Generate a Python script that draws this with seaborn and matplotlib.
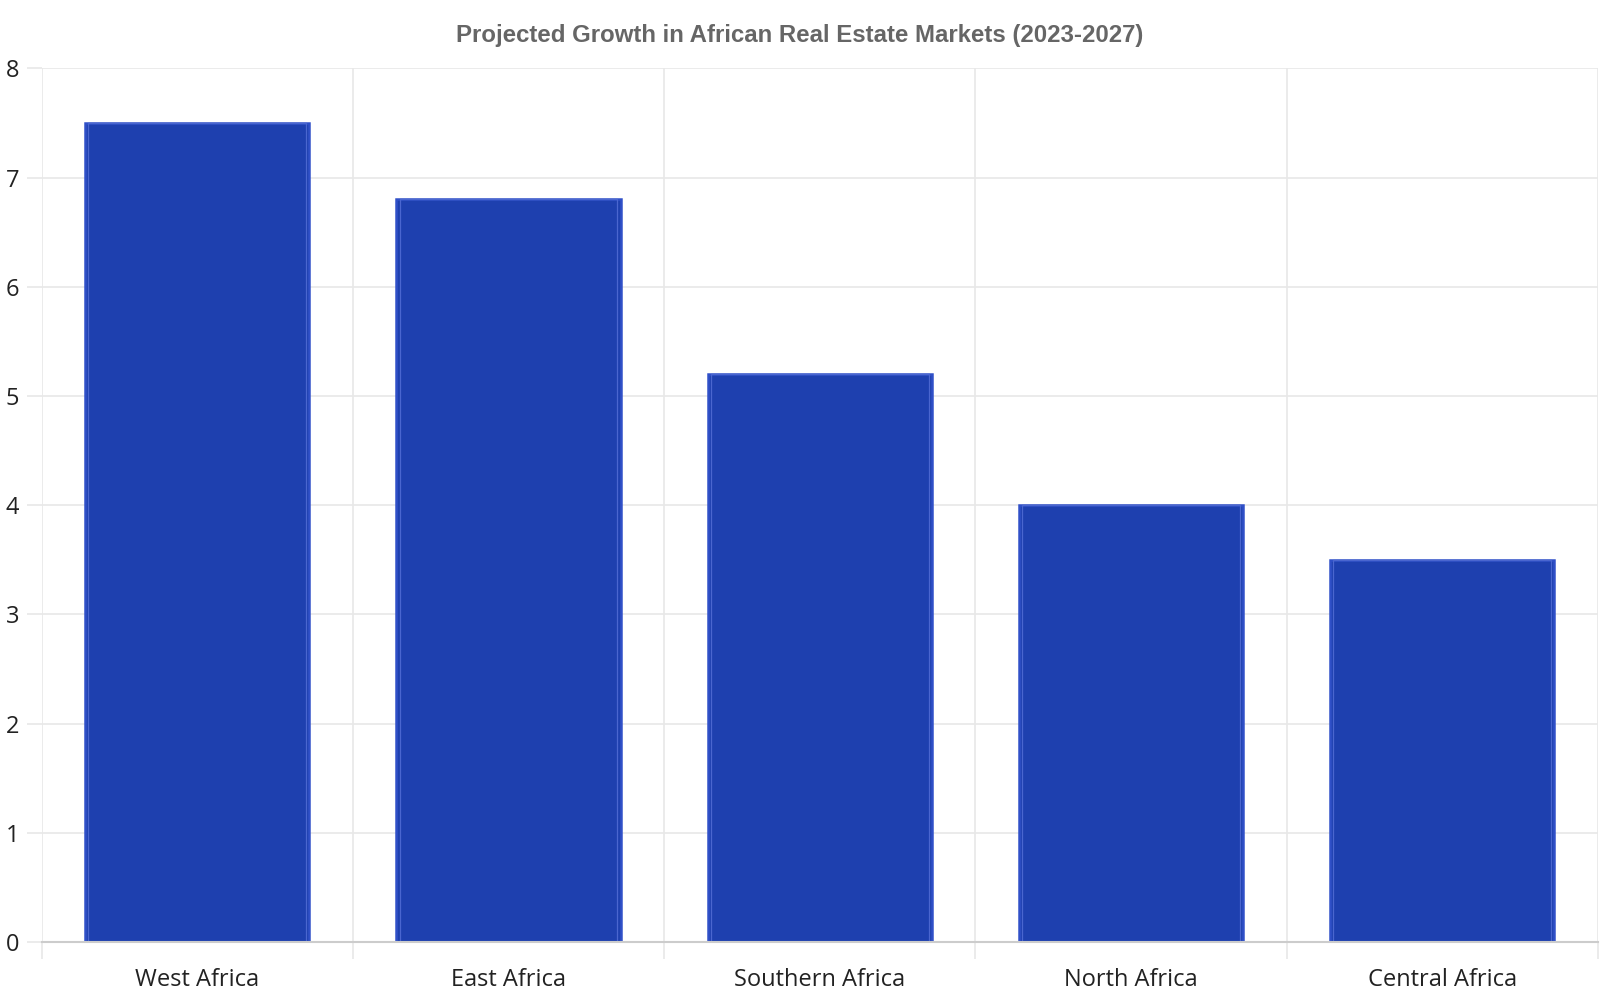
import matplotlib
matplotlib.use("Agg")
import matplotlib.pyplot as plt
import seaborn as sns
import pandas as pd
from matplotlib.ticker import FixedLocator

regions = ["West Africa", "East Africa", "Southern Africa", "North Africa", "Central Africa"]
growth = [7.5, 6.8, 5.2, 4.0, 3.5]

df = pd.DataFrame({"region": regions, "growth": growth})

sns.set_theme(style="white")
plt.rcParams['font.family'] = ['Open Sans', 'DejaVu Sans']

fig = plt.figure(figsize=(16, 10), dpi=100)
ax = fig.add_axes([0.026, 0.058, 0.9727, 0.8737])

sns.barplot(data=df, x="region", y="growth", color="#1e40af", width=0.72,
            edgecolor="#3050c8", linewidth=1.8, saturation=1, ax=ax, zorder=3)
# faint inner outline like the original
sns.barplot(data=df, x="region", y="growth", fill=False, width=0.70,
            edgecolor="#4a66cf", linewidth=0.9, ax=ax, zorder=4)

ax.set_xlim(-0.5, len(regions) - 0.5)
ax.set_ylim(0, 8)
ax.set_yticks(range(0, 9))
ax.xaxis.set_minor_locator(FixedLocator([i - 0.5 for i in range(len(regions) + 1)]))

grid_c = "#e8e8e8"
ax.grid(True, which="minor", axis="x", color=grid_c, linewidth=1.2, zorder=0)
ax.grid(True, which="major", axis="y", color=grid_c, linewidth=1.2, zorder=0)
ax.tick_params(axis="x", which="both", bottom=True)
ax.tick_params(axis="y", which="both", left=True)
ax.tick_params(axis="x", which="major", length=0, pad=19, labelsize=17, labelcolor="#222")
ax.tick_params(axis="x", which="minor", length=12, color=grid_c, width=1.2)
ax.tick_params(axis="y", which="major", length=11, color=grid_c, width=1.2, pad=5,
               labelsize=17, labelcolor="#222")

for s in ["top", "right", "left"]:
    ax.spines[s].set_visible(False)
ax.spines["bottom"].set_color("#cccccc")
ax.spines["bottom"].set_linewidth(1.5)
ax.spines["bottom"].set_zorder(5)

ax.set_xlabel("")
ax.set_ylabel("")
fig.suptitle("Projected Growth in African Real Estate Markets (2023-2027)",
             x=0.5, y=0.976, fontsize=17.3, fontweight="bold", color="#666666",
             family=["Liberation Sans", "DejaVu Sans"])

fig.savefig("out.png", dpi=100)
